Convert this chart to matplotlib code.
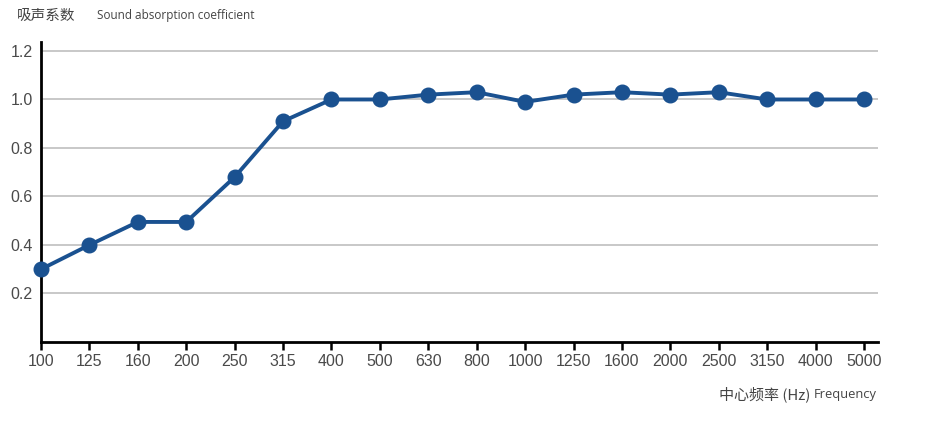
import matplotlib
matplotlib.use("Agg")
import matplotlib.pyplot as plt

freqs = ["100", "125", "160", "200", "250", "315", "400", "500", "630", "800",
         "1000", "1250", "1600", "2000", "2500", "3150", "4000", "5000"]
alpha = [0.30, 0.40, 0.495, 0.495, 0.68, 0.91, 1.00, 1.00, 1.02, 1.03,
         0.99, 1.02, 1.03, 1.02, 1.03, 1.00, 1.00, 1.00]
yticks = [0.2, 0.4, 0.6, 0.8, 1.0, 1.2]

W, H = 937, 423
fig = plt.figure(figsize=(W / 100, H / 100), dpi=100)
ax = fig.add_axes([41 / W, 1 - 342 / H, (878 - 41) / W, 300 / H])

x = list(range(len(freqs)))
ax.set_xlim(0, 17.29)
ax.set_ylim(0, 1.237)
for v in yticks:
    ax.axhline(v, color="#c8c8c8", lw=1.4, zorder=0)
ax.plot(x, alpha, color="#1a5190", lw=2.8, marker="o", markersize=10.5,
        zorder=3, clip_on=False)

tick_font = dict(fontfamily="Liberation Sans", fontsize=11.5, color="#4a4a4a")
ax.set_xticks(x)
ax.set_xticklabels(freqs, **tick_font)
ax.set_yticks(yticks)
ax.set_yticklabels([f"{v:.1f}" for v in yticks], **tick_font)
ax.tick_params(axis="x", direction="out", length=6, width=1.8, color="black", pad=3)
ax.tick_params(axis="y", length=0, pad=6)
for s in ["top", "right"]:
    ax.spines[s].set_visible(False)
for s in ["left", "bottom"]:
    ax.spines[s].set_linewidth(2)
    ax.spines[s].set_color("black")

fig.text(17 / W, 1 - 16 / H, "吸声系数", fontfamily="Noto Sans CJK SC", fontsize=10.5,
         color="#444444", va="center", ha="left")
fig.text(97 / W, 1 - 16 / H, "Sound absorption coefficient", fontfamily="Open Sans",
         fontsize=8.5, color="#444444", va="center", ha="left")
fig.text(719 / W, 1 - 394 / H, "中心频率 (Hz)", fontfamily=["Noto Sans CJK SC", "DejaVu Sans"],
         fontsize=10.8, color="#444444", va="center", ha="left")
fig.text(877 / W, 1 - 394 / H, "Frequency", fontfamily="Open Sans",
         fontsize=9.3, color="#444444", va="center", ha="right")

fig.savefig("out.png", dpi=100)
